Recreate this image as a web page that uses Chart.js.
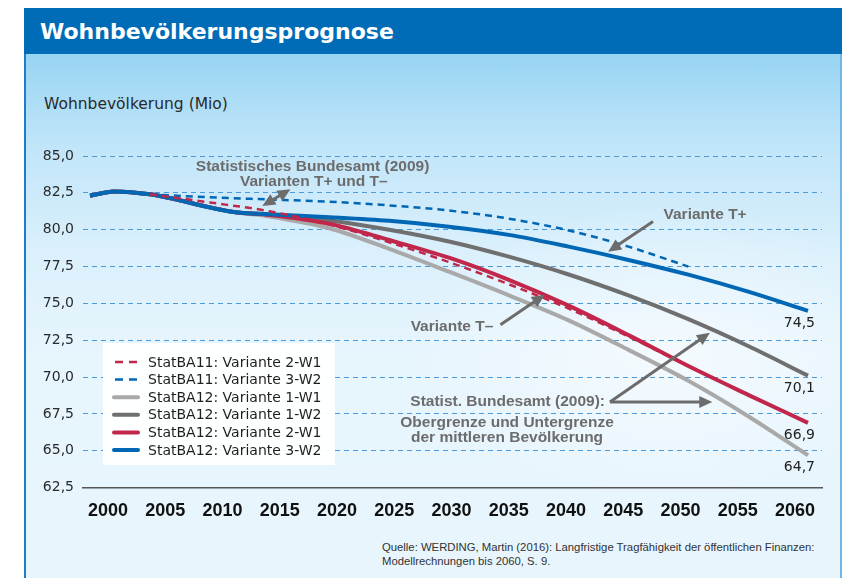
<!DOCTYPE html>
<html lang="de">
<head>
<meta charset="utf-8">
<title>Wohnbevölkerungsprognose</title>
<script src="https://cdn.jsdelivr.net/npm/chart.js@4.4.1/dist/chart.umd.min.js"></script>
<style>
  html, body { margin: 0; padding: 0; background: #fff; }
  body { width: 852px; height: 578px; position: relative; overflow: hidden; }
  #kopf { position: absolute; left: 24px; top: 8px; width: 818px; height: 46px; background: #006cb7; }
  #kopf span { position: absolute; left: 16px; top: 1px; font: bold 22px "DejaVu Sans", sans-serif; line-height: 46px; color: #fff; }
  #flaeche { position: absolute; left: 24px; top: 54px; width: 814px; height: 530px;
    border-left: 2px solid #1f7cc6; border-right: 2px solid #72b6e4;
    background:
      radial-gradient(ellipse 260px 150px at 640px 300px, rgba(255,255,255,0.55), rgba(255,255,255,0)),
      linear-gradient(to bottom, #97d4f3 0px, #c0e5f9 90px, #dbf0fc 200px, #e7f5fd 300px, #e8f5fd 100%); }
  #ytitel { position: absolute; left: 44px; top: 95px; font: 15.5px "DejaVu Sans", sans-serif; color: #2a2a2a; }
  #quelle { position: absolute; left: 382px; top: 540px; font: 11.3px "Liberation Sans", sans-serif; line-height: 14px; color: #333; }
  canvas { position: absolute; left: 0; top: 0; }
</style>
</head>
<body>
<div id="kopf"><span>Wohnbevölkerungsprognose</span></div>
<div id="flaeche"></div>
<div id="ytitel">Wohnbevölkerung (Mio)</div>
<div id="quelle">Quelle: WERDING, Martin (2016): Langfristige Tragfähigkeit der öffentlichen Finanzen:<br>Modellrechnungen bis 2060, S. 9.</div>
<canvas id="prognose" width="852" height="578"></canvas>
<script>
// Jahre und Werte (Mio)
const jahre12 = [2000, 2002, 2005, 2012, 2015, 2020, 2025, 2030, 2035, 2040, 2045, 2050, 2055, 2060]
const ba12_1W1 = [82.3, 82.6, 82.4, 81.2, 80.9, 80.1, 78.7, 77.15, 75.55, 73.85, 71.85, 69.75, 67.35, 64.7]
const ba12_1W2 = [82.3, 82.6, 82.4, 81.2, 81.04, 80.63, 80.0, 79.2, 78.17, 76.96, 75.54, 73.93, 72.11, 70.1]
const ba12_2W1 = [82.3, 82.6, 82.4, 81.2, 81.0, 80.4, 79.3, 78.1, 76.6, 74.85, 72.85, 70.75, 68.8, 66.9]
const ba12_3W2 = [82.3, 82.6, 82.4, 81.2, 81.05, 80.85, 80.6, 80.2, 79.65, 78.85, 77.95, 76.95, 75.8, 74.5]

const jahre11 = [2005, 2010, 2015, 2020, 2025, 2030, 2035, 2040, 2045, 2050]
const ba11_2W1 = [82.4, 81.85, 81.25, 80.35, 79.15, 77.8, 76.3, 74.65, 72.75, 70.75]
const ba11_3W2 = [82.4, 82.2, 82.05, 81.9, 81.65, 81.3, 80.75, 79.95, 78.85, 77.5]

const xTicks = [2000, 2005, 2010, 2015, 2020, 2025, 2030, 2035, 2040, 2045, 2050, 2055, 2060]
const yTicks = [62.5, 65, 67.5, 70, 72.5, 75, 77.5, 80, 82.5, 85]

const punkte = (jahre, werte) => jahre.map((j, i) => ({x: j, y: werte[i]}))
const komma = (v) => v.toFixed(1).replace('.', ',')

const rot = '#c0274a'
const blau = '#0067b4'
const grau = '#6f6f6f'
const hellgrau = '#a9a9a9'
const pfeilfarbe = '#6c6c6c'

// Beschriftungen im Diagramm (Jahr, Wert)
const texte = [
    {t: 'Statistisches Bundesamt (2009)', x: 2018.6, y: 84.28},
    {t: 'Varianten T+ und T\u2013', x: 2018.7, y: 83.27},
    {t: 'Variante T+', x: 2051.4, y: 81.01},
    {t: 'Variante T\u2013', x: 2030.25, y: 73.41},
    {t: 'Statist. Bundesamt (2009):', x: 2034.9, y: 68.32},
    {t: 'Obergrenze und Untergrenze', x: 2034.85, y: 66.9},
    {t: 'der mittleren Bevölkerung', x: 2034.85, y: 65.9}
]
const pfeile = [
    {von: [2016.75, 82.75], nach: [2014.4, 81.6], beide: true},
    {von: [2047.05, 80.55], nach: [2043.3, 78.51]},
    {von: [2034.3, 73.55], nach: [2038.0, 75.59]},
    {von: [2043.45, 68.32], nach: [2051.8, 73.01]},
    {von: [2043.45, 68.32], nach: [2052.0, 68.32]}
]

const spitze = (ctx, x1, y1, x2, y2) => {
    const w = Math.atan2(y2 - y1, x2 - x1)
    const l = 13, b = 6
    ctx.beginPath()
    ctx.moveTo(x2, y2)
    ctx.lineTo(x2 - l * Math.cos(w) + b * Math.sin(w), y2 - l * Math.sin(w) - b * Math.cos(w))
    ctx.lineTo(x2 - l * Math.cos(w) - b * Math.sin(w), y2 - l * Math.sin(w) + b * Math.cos(w))
    ctx.closePath()
    ctx.fill()
}

const anmerkungen = {
    id: 'anmerkungen',
    afterDatasetsDraw(chart) {
        const {ctx, scales: {x, y}} = chart
        ctx.save()

        // Legende
        ctx.fillStyle = 'rgba(255,255,255,0.93)'
        ctx.fillRect(103, 343, 232, 122)
        chart.data.datasets.forEach((ds, i) => {
            const ly = 362 + i * 17.6
            ctx.beginPath()
            ctx.strokeStyle = ds.borderColor
            ctx.lineWidth = ds.borderDash ? 2.5 : 4
            ctx.setLineDash(ds.borderDash ? [8, 6] : [])
            ctx.lineCap = ds.borderDash ? 'butt' : 'round'
            ctx.moveTo(ds.borderDash ? 115 : 114, ly)
            ctx.lineTo(ds.borderDash ? 139 : 138, ly)
            ctx.stroke()
            ctx.setLineDash([])
            ctx.fillStyle = '#1e1e1e'
            ctx.font = '14px "DejaVu Sans"'
            ctx.textAlign = 'left'
            ctx.textBaseline = 'middle'
            ctx.fillText(ds.label, 148, ly + 1)
        })

        // Endwerte
        chart.data.datasets.forEach((ds) => {
            if (!ds.endwert) return
            const p = ds.data[ds.data.length - 1]
            ctx.fillStyle = '#1e1e1e'
            ctx.font = '14px "DejaVu Sans"'
            ctx.textAlign = 'right'
            ctx.textBaseline = 'middle'
            ctx.fillText(komma(p.y), x.getPixelForValue(p.x) + 7, y.getPixelForValue(p.y) + 12.5)
        })

        // Texte und Pfeile
        ctx.fillStyle = pfeilfarbe
        ctx.strokeStyle = pfeilfarbe
        ctx.font = 'bold 15.5px "Liberation Sans"'
        ctx.textAlign = 'center'
        texte.forEach(a => ctx.fillText(a.t, x.getPixelForValue(a.x), y.getPixelForValue(a.y)))

        ctx.lineWidth = 3
        ctx.lineCap = 'butt'
        pfeile.forEach(p => {
            const x1 = x.getPixelForValue(p.von[0]), y1 = y.getPixelForValue(p.von[1])
            const x2 = x.getPixelForValue(p.nach[0]), y2 = y.getPixelForValue(p.nach[1])
            const w = Math.atan2(y2 - y1, x2 - x1)
            const sx = p.beide ? x1 + 10 * Math.cos(w) : x1
            const sy = p.beide ? y1 + 10 * Math.sin(w) : y1
            ctx.beginPath()
            ctx.moveTo(sx, sy)
            ctx.lineTo(x2 - 10 * Math.cos(w), y2 - 10 * Math.sin(w))
            ctx.stroke()
            spitze(ctx, x1, y1, x2, y2)
            if (p.beide) spitze(ctx, x2, y2, x1, y1)
        })
        ctx.restore()
    }
}

const data = {
    datasets: [
        {label: 'StatBA11: Variante 2-W1', data: punkte(jahre11, ba11_2W1), borderColor: rot, borderWidth: 2.5, borderDash: [7, 5], order: 0},
        {label: 'StatBA11: Variante 3-W2', data: punkte(jahre11, ba11_3W2), borderColor: blau, borderWidth: 2.5, borderDash: [7, 5], order: 0},
        {label: 'StatBA12: Variante 1-W1', data: punkte(jahre12, ba12_1W1), borderColor: hellgrau, borderWidth: 4, order: 4, endwert: true},
        {label: 'StatBA12: Variante 1-W2', data: punkte(jahre12, ba12_1W2), borderColor: grau, borderWidth: 4, order: 3, endwert: true},
        {label: 'StatBA12: Variante 2-W1', data: punkte(jahre12, ba12_2W1), borderColor: rot, borderWidth: 4, order: 2, endwert: true},
        {label: 'StatBA12: Variante 3-W2', data: punkte(jahre12, ba12_3W2), borderColor: blau, borderWidth: 4, order: 1, endwert: true}
    ]
}

const config = {
    type: 'line',
    data,
    options: {
        responsive: false,
        animation: false,
        layout: {padding: {left: 0, top: 156, right: 30, bottom: 50.3}},
        elements: {
            point: {radius: 0},
            line: {cubicInterpolationMode: 'monotone', fill: false, borderCapStyle: 'butt', borderJoinStyle: 'round'}
        },
        plugins: {legend: {display: false}, tooltip: {enabled: false}},
        scales: {
            x: {type: 'linear', min: 1999.415, max: 2061.17, display: false},
            jahr: {
                type: 'linear', axis: 'x', position: 'bottom', min: 1997.82, max: 2062.36,
                afterBuildTicks: (s) => { s.ticks = xTicks.map(v => ({value: v})) },
                afterFit: (s) => { s.height = 40 },
                grid: {display: false, drawTicks: false},
                border: {display: true, color: '#555', width: 1.5},
                ticks: {
                    autoSkip: false, maxRotation: 0, padding: 13, color: '#111',
                    font: {family: 'Liberation Sans', size: 18, weight: 'bold'},
                    callback: (v) => String(v)
                }
            },
            y: {
                min: 62.5, max: 85,
                afterBuildTicks: (s) => { s.ticks = yTicks.map(v => ({value: v})) },
                afterFit: (s) => { s.width = 83 },
                grid: {
                    drawTicks: false, lineWidth: 1,
                    color: (c) => c.tick && c.tick.value === 62.5 ? 'rgba(0,0,0,0)' : '#4a9bd8'
                },
                border: {display: false, dash: [5, 4]},
                ticks: {
                    padding: 9, color: '#2a2a2a',
                    font: {family: 'DejaVu Sans', size: 14},
                    callback: (v) => komma(v)
                }
            }
        }
    },
    plugins: [anmerkungen]
}

new Chart(document.getElementById('prognose'), config)
</script>
</body>
</html>
